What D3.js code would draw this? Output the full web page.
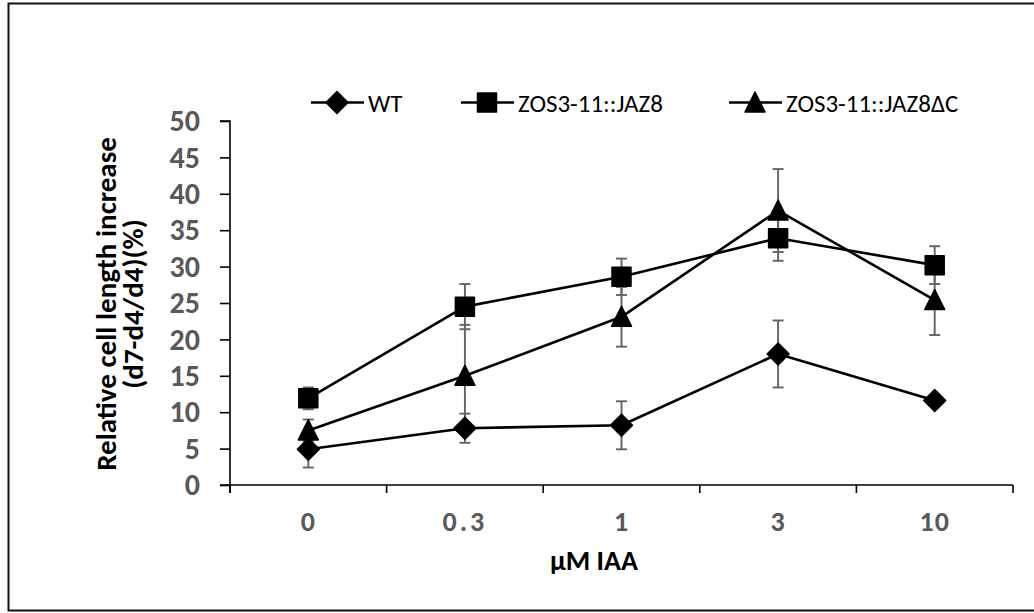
<!DOCTYPE html>
<html>
<head>
<meta charset="utf-8">
<script src="https://cdn.jsdelivr.net/npm/d3@7"></script>
<style>
  html, body { margin: 0; padding: 0; background: #fff; }
  svg { display: block; }
</style>
</head>
<body>
<svg id="chart" width="1034" height="613"></svg>
<script>
// IAA concentrations (µM) and cell-length increase per genotype
const categories = ["0", "0.3", "1", "3", "10"];
const seriesNames = ["WT", "ZOS3-11::JAZ8", "ZOS3-11::JAZ8ΔC"];
const wtValues   = [4.9, 7.8, 8.2, 18.0, 11.6];
const wtErrors   = [2.5, 2.0, 3.3, 4.6, 0.4];
const jaz8Values = [11.9, 24.5, 28.6, 33.9, 30.2];
const jaz8Errors = [1.5, 3.1, 2.5, 3.1, 2.6];
const dcValues   = [7.5, 15.0, 23.1, 37.7, 25.4];
const dcErrors   = [1.5, 7.0, 4.1, 5.7, 4.8];
const yTicks = [0, 5, 10, 15, 20, 25, 30, 35, 40, 45, 50];

const FONT = "Carlito, Lato, 'Liberation Sans', sans-serif";

const series = [
  { name: seriesNames[0], values: wtValues,   errors: wtErrors,   marker: "diamond" },
  { name: seriesNames[1], values: jaz8Values, errors: jaz8Errors, marker: "square" },
  { name: seriesNames[2], values: dcValues,   errors: dcErrors,   marker: "triangle" }
];

const svg = d3.select("#chart");

// outer frame
svg.append("rect")
  .attr("x", 8.5).attr("y", 3.5)
  .attr("width", 1040).attr("height", 607)
  .attr("fill", "none").attr("stroke", "#111").attr("stroke-width", 2);

const x = d3.scaleBand().domain(categories).range([230, 1013]).padding(0);
const y = d3.scaleLinear().domain([0, 50]).range([485, 121]);
const cx = c => x(c) + x.bandwidth() / 2;

// y axis
const yAxis = svg.append("g")
  .attr("transform", "translate(230,0)")
  .call(d3.axisLeft(y).tickValues(yTicks).tickSize(10).tickPadding(20));
yAxis.select(".domain").attr("stroke", "#000").attr("stroke-width", 1.6)
  .attr("d", `M-10,${y(50)}H0V${y(0) + 8}`);
yAxis.selectAll(".tick line").attr("stroke", "#000").attr("stroke-width", 1.6);
yAxis.selectAll(".tick text")
  .attr("font-family", FONT).attr("font-size", 30).attr("font-weight", "bold")
  .attr("fill", "#595959");

// x axis: line with ticks on category boundaries
const xg = svg.append("g");
xg.append("line")
  .attr("x1", 220).attr("x2", x.range()[1])
  .attr("y1", y(0)).attr("y2", y(0))
  .attr("stroke", "#000").attr("stroke-width", 1.6);
const bounds = categories.map(c => x(c)).concat([x.range()[1]]);
xg.selectAll("line.bt").data(bounds).join("line")
  .attr("class", "bt")
  .attr("x1", d => d).attr("x2", d => d)
  .attr("y1", y(0)).attr("y2", y(0) + 8)
  .attr("stroke", "#000").attr("stroke-width", 1.6);
xg.selectAll("text").data(categories).join("text")
  .attr("x", d => cx(d)).attr("y", 531)
  .attr("text-anchor", "middle")
  .attr("font-family", FONT).attr("font-size", 28).attr("font-weight", "bold")
  .attr("letter-spacing", d => d.length > 2 ? 3 : 1)
  .attr("fill", "#595959")
  .text(d => d);

// axis titles
svg.append("text")
  .attr("x", 594).attr("y", 570)
  .attr("text-anchor", "middle")
  .attr("font-family", FONT).attr("font-size", 28).attr("font-weight", "bold")
  .attr("fill", "#000")
  .text("µM IAA");

const yTitle = svg.append("text")
  .attr("transform", "rotate(-90)")
  .attr("text-anchor", "middle")
  .attr("font-family", FONT).attr("font-size", 29).attr("font-weight", "bold")
  .attr("fill", "#000");
yTitle.append("tspan").attr("x", -304).attr("y", 116).text("Relative cell length increase");
yTitle.append("tspan").attr("x", -304).attr("y", 143).text("(d7-d4/d4)(%)");

// marker shapes
function markerPath(type) {
  if (type === "diamond") return "M0,-11L11,0L0,11L-11,0Z";
  if (type === "square") return "M-9.5,-9.5H9.5V9.5H-9.5Z";
  return "M0,-10.5L10,9.5H-10Z";
}

const plot = svg.append("g");

// error bars
series.forEach(s => {
  const g = plot.append("g");
  s.values.forEach((v, i) => {
    const px = cx(categories[i]);
    const lo = y(v - s.errors[i]), hi = y(v + s.errors[i]);
    g.append("line").attr("x1", px).attr("x2", px).attr("y1", lo).attr("y2", hi)
      .attr("stroke", "#636363").attr("stroke-width", 1.9);
    [lo, hi].forEach(yy => g.append("line")
      .attr("x1", px - 5.5).attr("x2", px + 5.5).attr("y1", yy).attr("y2", yy)
      .attr("stroke", "#636363").attr("stroke-width", 1.9));
  });
});

// series lines
const line = d3.line().x((d, i) => cx(categories[i])).y(d => y(d));
series.forEach(s => {
  plot.append("path").attr("d", line(s.values))
    .attr("fill", "none").attr("stroke", "#000").attr("stroke-width", 2.6)
    .attr("stroke-linejoin", "round");
});

// markers
series.forEach(s => {
  plot.append("g").selectAll("path").data(s.values).join("path")
    .attr("transform", (d, i) => `translate(${cx(categories[i])},${y(d)})`)
    .attr("d", markerPath(s.marker))
    .attr("fill", "#000").attr("stroke", "#000").attr("stroke-width", 1.5)
    .attr("stroke-linejoin", "round");
});

// legend
const legendX = [311, 461, 729];
const legendY = 102.5;
const lg = svg.append("g");
series.forEach((s, i) => {
  const g = lg.append("g").attr("transform", `translate(${legendX[i]},${legendY})`);
  g.append("line").attr("x1", 0).attr("x2", 53).attr("y1", 0).attr("y2", 0)
    .attr("stroke", "#000").attr("stroke-width", 2.6);
  g.append("path").attr("transform", "translate(26,0)")
    .attr("d", markerPath(s.marker))
    .attr("fill", "#000").attr("stroke", "#000").attr("stroke-width", 1.5)
    .attr("stroke-linejoin", "round");
  g.append("text").attr("x", 57).attr("y", 9)
    .attr("font-family", FONT).attr("font-size", 25)
    .attr("fill", "#000").text(s.name);
});
</script>
</body>
</html>
